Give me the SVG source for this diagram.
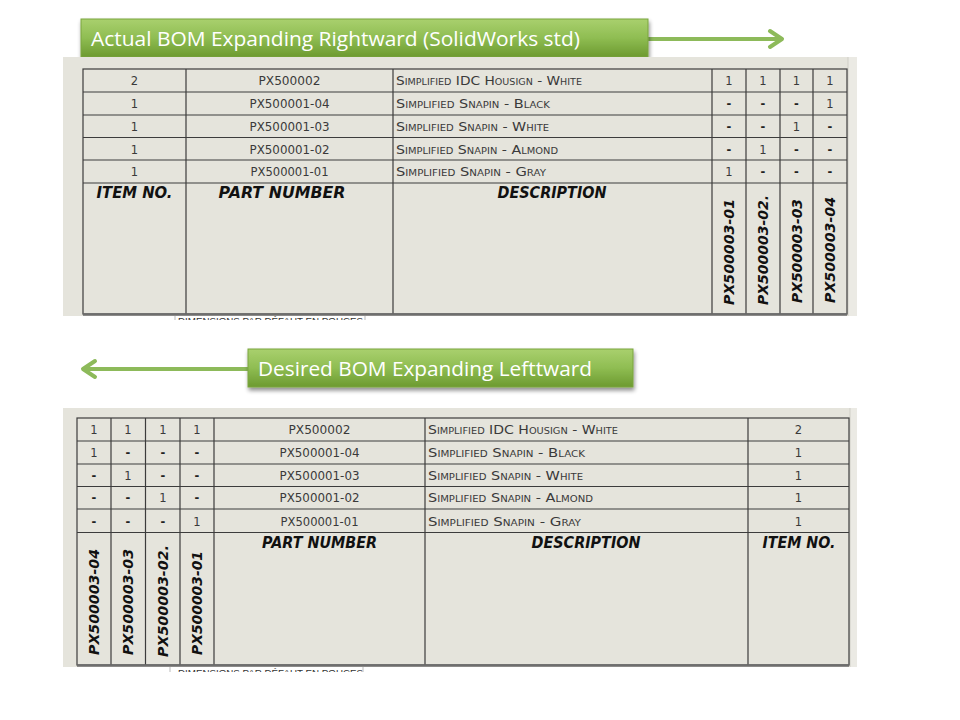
<svg xmlns="http://www.w3.org/2000/svg" width="960" height="720" viewBox="0 0 960 720">
<defs>
<linearGradient id="gb" x1="0" y1="0" x2="0" y2="1">
<stop offset="0" stop-color="#a9d06e"/>
<stop offset="0.5" stop-color="#8fbd52"/>
<stop offset="1" stop-color="#6c9a30"/>
</linearGradient>
<filter id="sh" x="-10%" y="-30%" width="120%" height="170%">
<feGaussianBlur in="SourceAlpha" stdDeviation="2"/>
<feOffset dx="1" dy="3"/>
<feComponentTransfer><feFuncA type="linear" slope="0.45"/></feComponentTransfer>
<feMerge><feMergeNode/><feMergeNode in="SourceGraphic"/></feMerge>
</filter>
<clipPath id="c1"><rect x="63" y="316" width="794" height="4"/></clipPath>
<clipPath id="c2"><rect x="63" y="667" width="794" height="5"/></clipPath>
<style>
.bn{fill:url(#gb);stroke:#7aa53e;stroke-width:1}
.bt{font-family:"Open Sans","Noto Sans",sans-serif;font-size:20px;fill:#ffffff}
.arr{fill:none;stroke:#8dba5a;stroke-width:4;stroke-linecap:round;stroke-linejoin:round}
.scr{fill:#e5e4dc}
.g{fill:none;stroke:#3c3c3c;stroke-width:1.2}
.bot{stroke:#6e6e6e;stroke-width:2.5}
.c{font-family:"DejaVu Sans","Liberation Sans",sans-serif;font-size:11.5px;fill:#3a3a3a;text-anchor:middle}
.ds{font-weight:bold;fill:#222}
.d{font-family:"DejaVu Sans","Liberation Sans",sans-serif;font-size:11.5px;fill:#3a3a3a;font-variant:small-caps}
.h{font-family:"DejaVu Sans","Liberation Sans",sans-serif;font-size:15px;font-weight:bold;font-style:italic;fill:#111;text-anchor:middle}
.v{font-family:"DejaVu Sans","Liberation Sans",sans-serif;font-size:14px;font-weight:bold;font-style:italic;fill:#111}
.ft{font-family:"Liberation Sans",sans-serif;font-size:9px;fill:#333}
</style>
</defs>
<rect width="960" height="720" fill="#ffffff"/>

<g id="connectors">
<path class="arr" d="M648 39 H782 M770 31 L782 39 L770 47"/>
<path class="arr" d="M248 369 H83 M95 361 L83 369 L95 377"/>
</g>

<g id="banner-top">
<rect class="bn" x="81" y="19" width="567" height="38" filter="url(#sh)"/>
<text class="bt" x="91" y="46" textLength="489" lengthAdjust="spacingAndGlyphs">Actual BOM Expanding Rightward (SolidWorks std)</text>
</g>

<g id="banner-bottom">
<rect class="bn" x="248" y="349" width="385" height="38" filter="url(#sh)"/>
<text class="bt" x="258" y="376" textLength="334" lengthAdjust="spacingAndGlyphs">Desired BOM Expanding Lefttward</text>
</g>

<g id="table-top">
<rect class="scr" x="63" y="57" width="794" height="259"/>
<rect x="848" y="57" width="9" height="259" fill="#ebeae4"/>
<line x1="848" y1="57" x2="848" y2="316" stroke="#cfcec6" stroke-width="1"/>
<rect x="63" y="316" width="794" height="4" fill="#ffffff"/>
<g clip-path="url(#c1)">
<text class="ft" x="178" y="324" textLength="185" lengthAdjust="spacingAndGlyphs">DIMENSIONS PAR DÉFAUT EN POUCES</text>
<path d="M175 316 V320 M365 316 V320" stroke="#bbb" stroke-width="1"/>
</g>
<rect class="g" x="83" y="69" width="764" height="245"/>
<path class="g" d="M83 92H847 M83 115H847 M83 137.5H847 M83 160H847 M83 183H847 M186 69V314 M393 69V314 M712 69V314 M746 69V314 M780 69V314 M813 69V314"/>
<line class="bot" x1="83" y1="314.5" x2="847" y2="314.5"/>
<text class="c" x="134.5" y="85">2</text>
<text class="c" x="134.5" y="108">1</text>
<text class="c" x="134.5" y="130.5">1</text>
<text class="c" x="134.5" y="153.5">1</text>
<text class="c" x="134.5" y="176">1</text>
<text class="c" x="289.5" y="85" textLength="62" lengthAdjust="spacingAndGlyphs">PX500002</text>
<text class="c" x="289.5" y="108" textLength="80" lengthAdjust="spacingAndGlyphs">PX500001-04</text>
<text class="c" x="289.5" y="130.5" textLength="80" lengthAdjust="spacingAndGlyphs">PX500001-03</text>
<text class="c" x="289.5" y="153.5" textLength="80" lengthAdjust="spacingAndGlyphs">PX500001-02</text>
<text class="c" x="289.5" y="176" textLength="78" lengthAdjust="spacingAndGlyphs">PX500001-01</text>
<text class="d" x="396" y="85" textLength="186" lengthAdjust="spacingAndGlyphs">Simplified IDC Housign - White</text>
<text class="d" x="396" y="108" textLength="154" lengthAdjust="spacingAndGlyphs">Simplified Snapin - Black</text>
<text class="d" x="396" y="130.5" textLength="153" lengthAdjust="spacingAndGlyphs">Simplified Snapin - White</text>
<text class="d" x="396" y="153.5" textLength="162" lengthAdjust="spacingAndGlyphs">Simplified Snapin - Almond</text>
<text class="d" x="396" y="176" textLength="150" lengthAdjust="spacingAndGlyphs">Simplified Snapin - Gray</text>
<g class="c">
<text x="729" y="85">1</text><text x="763" y="85">1</text><text x="796.5" y="85">1</text><text x="830" y="85">1</text>
<text class="ds" x="729" y="108">-</text><text class="ds" x="763" y="108">-</text><text class="ds" x="796.5" y="108">-</text><text x="830" y="108">1</text>
<text class="ds" x="729" y="130.5">-</text><text class="ds" x="763" y="130.5">-</text><text x="796.5" y="130.5">1</text><text class="ds" x="830" y="130.5">-</text>
<text class="ds" x="729" y="153.5">-</text><text x="763" y="153.5">1</text><text class="ds" x="796.5" y="153.5">-</text><text class="ds" x="830" y="153.5">-</text>
<text x="729" y="176">1</text><text class="ds" x="763" y="176">-</text><text class="ds" x="796.5" y="176">-</text><text class="ds" x="830" y="176">-</text>
</g>
<text class="h" x="134.5" y="198" textLength="76" lengthAdjust="spacingAndGlyphs">ITEM NO.</text>
<text class="h" x="282" y="198" textLength="127" lengthAdjust="spacingAndGlyphs">PART NUMBER</text>
<text class="h" x="552" y="198" textLength="109" lengthAdjust="spacingAndGlyphs">DESCRIPTION</text>
<text class="v" transform="translate(734,305) rotate(-90)" textLength="106" lengthAdjust="spacingAndGlyphs">PX500003-01</text>
<text class="v" transform="translate(768,305) rotate(-90)" textLength="110" lengthAdjust="spacingAndGlyphs">PX500003-02.</text>
<text class="v" transform="translate(801.5,303) rotate(-90)" textLength="104" lengthAdjust="spacingAndGlyphs">PX500003-03</text>
<text class="v" transform="translate(835,303) rotate(-90)" textLength="106" lengthAdjust="spacingAndGlyphs">PX500003-04</text>
</g>

<g id="table-bottom">
<rect class="scr" x="63" y="408" width="794" height="259"/>
<rect x="850" y="408" width="7" height="259" fill="#ebeae4"/>
<line x1="850" y1="408" x2="850" y2="667" stroke="#cfcec6" stroke-width="1"/>
<g clip-path="url(#c2)">
<text class="ft" x="178" y="676" textLength="185" lengthAdjust="spacingAndGlyphs">DIMENSIONS PAR DÉFAUT EN POUCES</text>
<path d="M170 667 V672 M363 667 V672" stroke="#bbb" stroke-width="1"/>
</g>
<rect class="g" x="77" y="418" width="772" height="247"/>
<path class="g" d="M77 441H849 M77 464H849 M77 486.5H849 M77 509H849 M77 532.5H849 M111 418V665 M145.5 418V665 M180 418V665 M214 418V665 M425 418V665 M748 418V665"/>
<line class="bot" x1="77" y1="665.5" x2="849" y2="665.5"/>
<g class="c">
<text x="94" y="434">1</text><text x="128" y="434">1</text><text x="163" y="434">1</text><text x="197" y="434">1</text>
<text x="94" y="457">1</text><text class="ds" x="128" y="457">-</text><text class="ds" x="163" y="457">-</text><text class="ds" x="197" y="457">-</text>
<text class="ds" x="94" y="479.5">-</text><text x="128" y="479.5">1</text><text class="ds" x="163" y="479.5">-</text><text class="ds" x="197" y="479.5">-</text>
<text class="ds" x="94" y="502">-</text><text class="ds" x="128" y="502">-</text><text x="163" y="502">1</text><text class="ds" x="197" y="502">-</text>
<text class="ds" x="94" y="525.5">-</text><text class="ds" x="128" y="525.5">-</text><text class="ds" x="163" y="525.5">-</text><text x="197" y="525.5">1</text>
</g>
<text class="c" x="319.5" y="434" textLength="62" lengthAdjust="spacingAndGlyphs">PX500002</text>
<text class="c" x="319.5" y="457" textLength="80" lengthAdjust="spacingAndGlyphs">PX500001-04</text>
<text class="c" x="319.5" y="479.5" textLength="80" lengthAdjust="spacingAndGlyphs">PX500001-03</text>
<text class="c" x="319.5" y="502" textLength="80" lengthAdjust="spacingAndGlyphs">PX500001-02</text>
<text class="c" x="319.5" y="525.5" textLength="78" lengthAdjust="spacingAndGlyphs">PX500001-01</text>
<text class="d" x="428" y="434" textLength="190" lengthAdjust="spacingAndGlyphs">Simplified IDC Housign - White</text>
<text class="d" x="428" y="457" textLength="157" lengthAdjust="spacingAndGlyphs">Simplified Snapin - Black</text>
<text class="d" x="428" y="479.5" textLength="155" lengthAdjust="spacingAndGlyphs">Simplified Snapin - White</text>
<text class="d" x="428" y="502" textLength="165" lengthAdjust="spacingAndGlyphs">Simplified Snapin - Almond</text>
<text class="d" x="428" y="525.5" textLength="153" lengthAdjust="spacingAndGlyphs">Simplified Snapin - Gray</text>
<text class="c" x="798.5" y="434">2</text>
<text class="c" x="798.5" y="457">1</text>
<text class="c" x="798.5" y="479.5">1</text>
<text class="c" x="798.5" y="502">1</text>
<text class="c" x="798.5" y="525.5">1</text>
<text class="h" x="319.5" y="548" textLength="115" lengthAdjust="spacingAndGlyphs">PART NUMBER</text>
<text class="h" x="586" y="548" textLength="109" lengthAdjust="spacingAndGlyphs">DESCRIPTION</text>
<text class="h" x="799" y="548" textLength="73" lengthAdjust="spacingAndGlyphs">ITEM NO.</text>
<text class="v" transform="translate(99,655) rotate(-90)" textLength="106" lengthAdjust="spacingAndGlyphs">PX500003-04</text>
<text class="v" transform="translate(133,655) rotate(-90)" textLength="106" lengthAdjust="spacingAndGlyphs">PX500003-03</text>
<text class="v" transform="translate(168,657) rotate(-90)" textLength="112" lengthAdjust="spacingAndGlyphs">PX500003-02.</text>
<text class="v" transform="translate(202,655) rotate(-90)" textLength="104" lengthAdjust="spacingAndGlyphs">PX500003-01</text>
</g>
</svg>
